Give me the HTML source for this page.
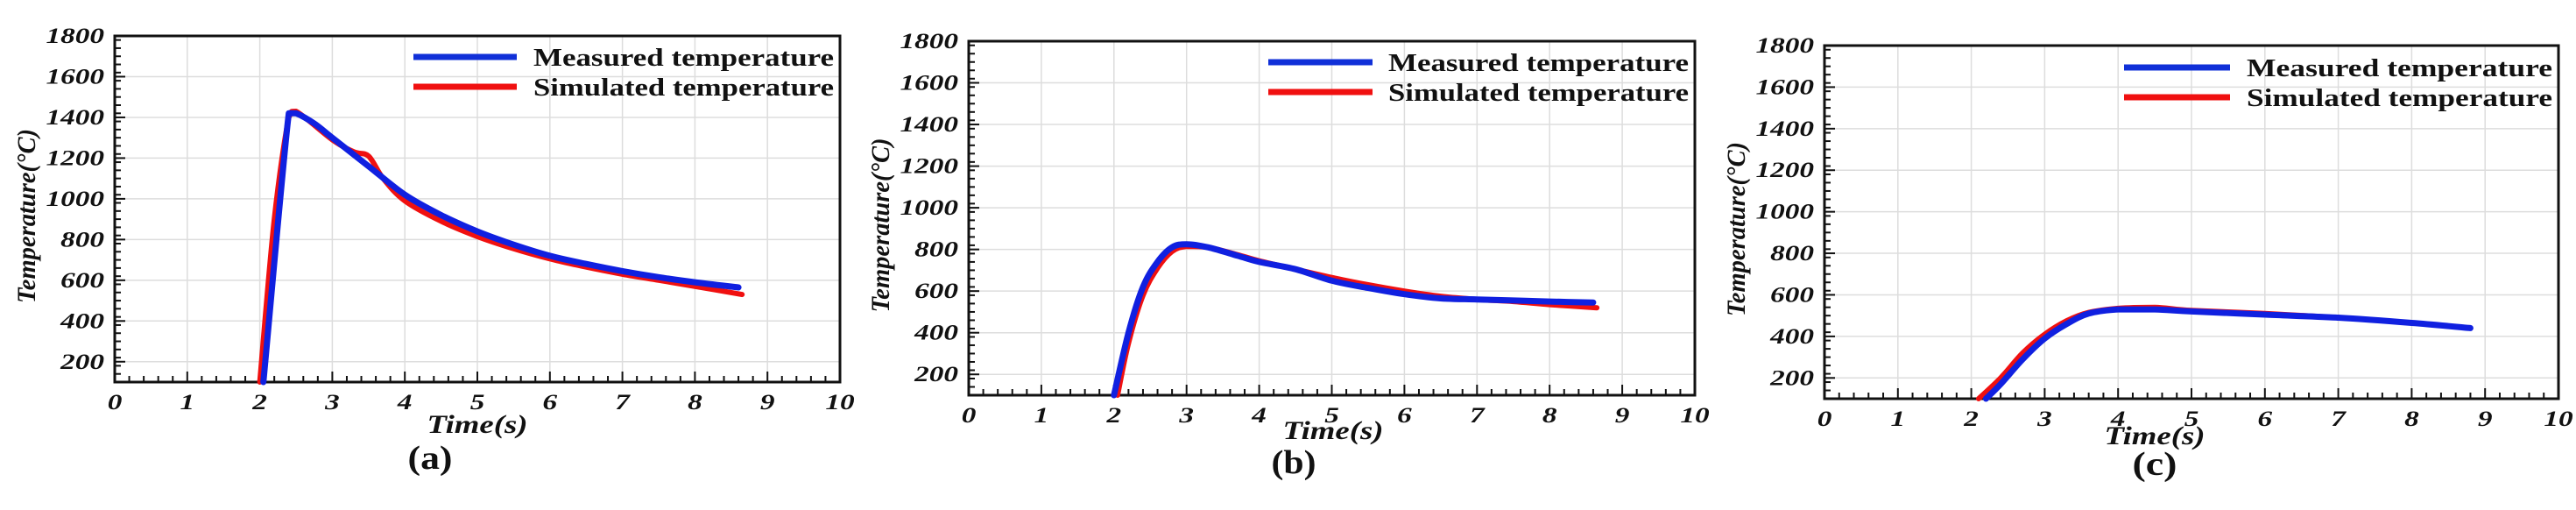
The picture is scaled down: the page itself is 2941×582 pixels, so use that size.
<!DOCTYPE html>
<html><head><meta charset="utf-8"><style>
html,body{margin:0;padding:0;background:#fff;}
svg{display:block;}
text{font-family:"Liberation Serif",serif;font-weight:bold;fill:#111;}
</style></head><body>
<svg id="chart" width="2941" height="582" viewBox="0 0 2941 582" xmlns="http://www.w3.org/2000/svg"></svg>
<script>
const xTicks = [0,1,2,3,4,5,6,7,8,9,10];
const yTicks = [200,400,600,800,1000,1200,1400,1600,1800];
const panelLabels = ["(a)","(b)","(c)"];
const aMeasT = [2.05,2.4,2.5,2.75,3,3.5,4,4.5,5,5.5,6,6.5,7,7.5,8,8.6];
const aMeasV = [100,1420,1420,1370,1300,1160,1020,920,840,775,720,680,645,615,590,565];
const aSimT = [2.0,2.2,2.4,2.5,3,3.3,3.5,3.7,4,4.5,5,5.5,6,6.5,7,7.5,8,8.65];
const aSimV = [100,900,1400,1430,1290,1230,1210,1100,990,890,815,755,705,665,630,600,570,530];
const bMeasT = [2.0,2.2,2.4,2.6,2.8,3.0,3.3,3.7,4,4.5,5,5.5,6,6.5,7,7.5,8,8.6];
const bMeasV = [100,400,620,740,810,825,810,770,740,705,650,615,585,565,560,555,550,545];
const bSimT = [2.05,2.2,2.4,2.6,2.8,3.0,3.3,3.7,4,4.5,5,5.5,6,6.5,7,7.5,8,8.65];
const bSimV = [100,350,580,710,790,815,810,775,745,705,665,630,600,575,560,550,535,520];
const cMeasT = [2.2,2.4,2.7,3.0,3.3,3.6,4.0,4.5,5,6,7,8,8.8];
const cMeasV = [100,170,290,390,460,510,530,530,520,505,490,465,440];
const cSimT = [2.1,2.4,2.7,3.0,3.3,3.6,4.0,4.5,5,6,7,8,8.8];
const cSimV = [100,200,320,410,475,515,535,540,525,510,490,465,440];

const NS="http://www.w3.org/2000/svg";
const svg=document.getElementById('chart');
function mk(tag,attrs,parent){const e=document.createElementNS(NS,tag);for(const k in attrs)e.setAttribute(k,attrs[k]);(parent||svg).appendChild(e);return e;}

const panels=[
 {L:131,R:959,T:41,B:436,meas:[aMeasT,aMeasV],sim:[aSimT,aSimV],tx:545,ty:494,lx:491,ly:535,leg:[24,58],legText:609,legLine:[472,590]},
 {L:1106,R:1935,T:47,B:451,meas:[bMeasT,bMeasV],sim:[bSimT,bSimV],tx:1522,ty:501,lx:1477,ly:540,leg:[24,58],legText:1585,legLine:[1448,1567]},
 {L:2083,R:2921,T:52,B:455,meas:[cMeasT,cMeasV],sim:[cSimT,cSimV],tx:2460,ty:507,lx:2460,ly:542,leg:[25,59],legText:2565,legLine:[2425,2546]}
];
const sx=1.33;
function clamp(v,a,b){const lo=Math.min(a,b),hi=Math.max(a,b);return Math.max(lo,Math.min(hi,v));}
function smooth(pts){
 let d='M'+pts[0][0].toFixed(1)+','+pts[0][1].toFixed(1);
 for(let i=0;i<pts.length-1;i++){
  const p0=pts[i-1]||pts[i],p1=pts[i],p2=pts[i+1],p3=pts[i+2]||p2;
  const c1=[p1[0]+(p2[0]-p0[0])/6,clamp(p1[1]+(p2[1]-p0[1])/6,p1[1],p2[1])];
  const c2=[p2[0]-(p3[0]-p1[0])/6,clamp(p2[1]-(p3[1]-p1[1])/6,p1[1],p2[1])];
  c1[0]=clamp(c1[0],p1[0],p2[0]);c2[0]=clamp(c2[0],p1[0],p2[0]);
  d+=` C${c1[0].toFixed(1)},${c1[1].toFixed(1)} ${c2[0].toFixed(1)},${c2[1].toFixed(1)} ${p2[0].toFixed(1)},${p2[1].toFixed(1)}`;
 }
 return d;
}
panels.forEach((p,i)=>{
 const g=mk('g',{});
 
 
 const X=v=>p.L+(v-0)/10*(p.R-p.L);
 const Y=v=>p.B-(v-100)/1700*(p.B-p.T);
 xTicks.forEach(t=>{if(t>0&&t<10){const l=mk('line',{x1:X(t),x2:X(t),y1:p.T,y2:p.B,stroke:'#ddd','stroke-width':1.5},g);}});
 yTicks.forEach(t=>{if(t<1800){const l=mk('line',{x1:p.L,x2:p.R,y1:Y(t),y2:Y(t),stroke:'#ddd','stroke-width':1.5},g);}});
 for(let v=0;v<=10.001;v+=0.2){const big=Math.abs(v-Math.round(v))<0.01;mk('line',{x1:X(v),x2:X(v),y1:p.B,y2:p.B-(big?12:7),stroke:'#111','stroke-width':2},g);}
 for(let v=100;v<=1800;v+=40){mk('line',{x1:p.L,x2:p.L+7,y1:Y(v),y2:Y(v),stroke:'#111','stroke-width':2},g);}
 yTicks.forEach(t=>mk('line',{x1:p.L,x2:p.L+12,y1:Y(t),y2:Y(t),stroke:'#111','stroke-width':2},g));
 const fr=mk('rect',{x:p.L,y:p.T,width:p.R-p.L,height:p.B-p.T,fill:'none',stroke:'#111','stroke-width':3},g);
 
 xTicks.forEach(t=>{const e=mk('text',{transform:`translate(${X(t)},${p.B+31}) scale(${sx},1)`,'text-anchor':'middle','font-size':25,'font-style':'italic'},g);e.textContent=t;});
 yTicks.forEach(t=>{const e=mk('text',{transform:`translate(${p.L-12},${Y(t)+8}) scale(${sx},1)`,'text-anchor':'end','font-size':25,'font-style':'italic'},g);e.textContent=t;});
 const xt=mk('text',{x:p.tx,y:p.ty,'text-anchor':'middle','font-size':30,'font-style':'italic',textLength:115,lengthAdjust:'spacingAndGlyphs'},g);xt.textContent='Time(s)';
 
 const cy=(p.T+p.B)/2+8;
 const yt=mk('text',{transform:`translate(${p.L-91},${cy}) rotate(-90)`,'text-anchor':'middle','font-size':30,'font-style':'italic',textLength:199,lengthAdjust:'spacingAndGlyphs'},g);yt.textContent='Temperature(°C)';
 
 const pl=mk('text',{x:p.lx,y:p.ly,'text-anchor':'middle','font-size':38,textLength:51,lengthAdjust:'spacingAndGlyphs'},g);pl.textContent=panelLabels[i];
 
 const pts=(ts,vs)=>ts.map((t,j)=>[X(t),Y(vs[j])]);
 const s=mk('path',{d:smooth(pts(p.sim[0],p.sim[1])),fill:'none',stroke:'#f01010','stroke-width':6,'stroke-linejoin':'round','stroke-linecap':'round'},g);
 
 const m=mk('path',{d:smooth(pts(p.meas[0],p.meas[1])),fill:'none',stroke:'#1020e0','stroke-width':7,'stroke-linejoin':'round','stroke-linecap':'round'},g);
 
 const names=['Measured temperature','Simulated temperature'],cols=['#1030d8','#f01010'];
 names.forEach((n,k)=>{
  const yy=p.T+p.leg[k];
  const ll=mk('line',{x1:p.legLine[0],x2:p.legLine[1],y1:yy,y2:yy,stroke:cols[k],'stroke-width':7},g);
  
  const lt=mk('text',{x:p.legText,y:yy+10,'font-size':29,textLength:(p.R-7-p.legText),lengthAdjust:'spacingAndGlyphs'},g);lt.textContent=n;
  
 });
});
</script>
</body></html>
